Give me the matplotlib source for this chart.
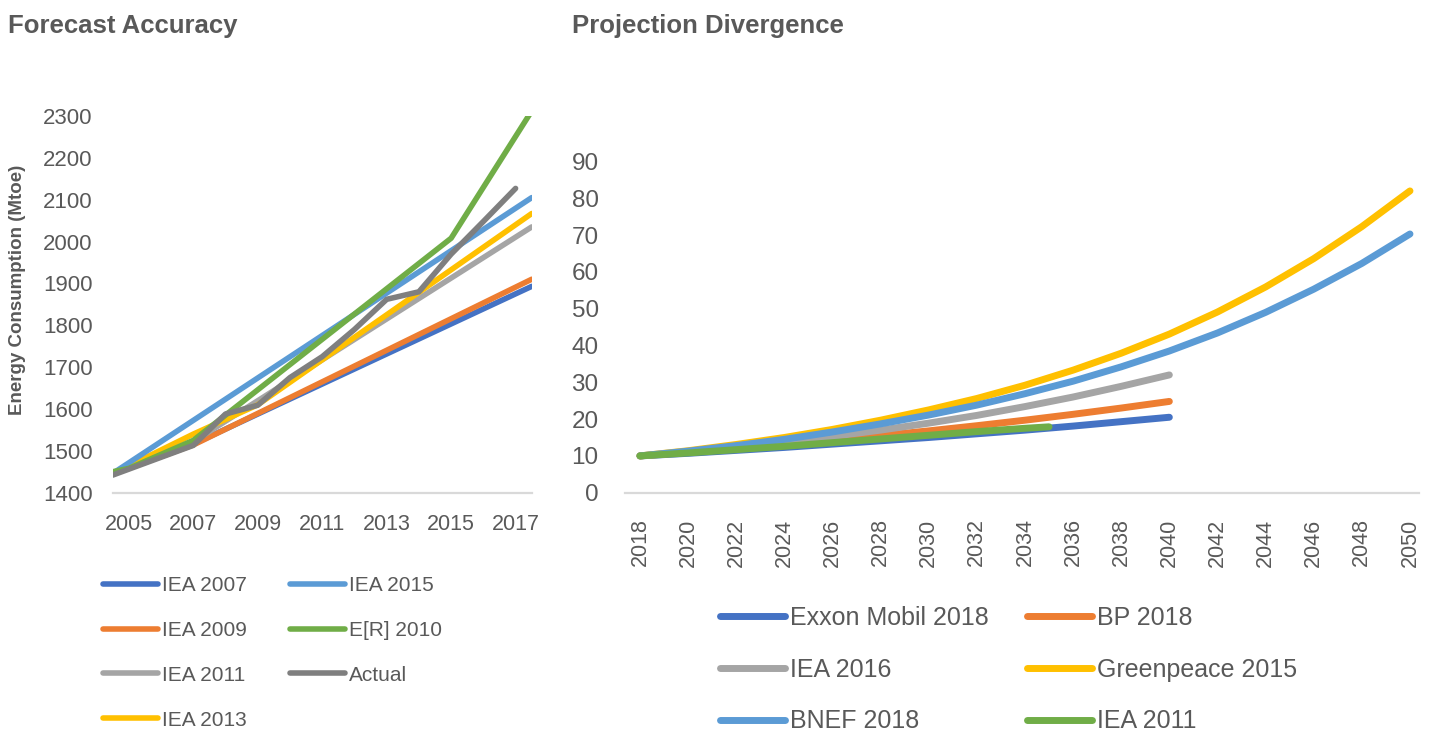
import matplotlib
matplotlib.use('Agg')
import matplotlib.pyplot as plt

plt.rcParams['font.family'] = ['Liberation Sans', 'DejaVu Sans']

TXT = '#595959'

# --- Forecast Accuracy (left) ---
acc_labels = ['IEA 2007', 'IEA 2009', 'IEA 2011', 'IEA 2013', 'IEA 2015', 'E[R] 2010', 'Actual']
acc_colors = ['#4472C4', '#ED7D31', '#A5A5A5', '#FFC000', '#5B9BD5', '#70AD47', '#7F7F7F']
iea2007_x = [2004.5, 2007, 2017.5]
iea2007_y = [1445, 1516, 1893]
iea2009_x = [2004.5, 2007, 2017.5]
iea2009_y = [1445, 1514, 1910]
iea2011_x = [2004.5, 2007, 2017.5]
iea2011_y = [1445, 1522, 2035]
iea2013_x = [2004.5, 2007, 2009, 2017.5]
iea2013_y = [1445, 1540, 1610, 2067]
iea2015_x = [2004.5, 2017.5]
iea2015_y = [1446, 2105]
er2010_x = [2004.5, 2005, 2007, 2015, 2017.5]
er2010_y = [1450, 1458, 1525, 2008, 2312]
actual_x = [2004.5, 2007, 2008, 2009, 2010, 2011, 2012, 2013, 2014, 2015, 2016, 2017]
actual_y = [1442, 1513, 1588, 1609, 1675, 1725, 1790, 1862, 1880, 1970, 2048, 2127]
acc_x_ticks = [2005, 2007, 2009, 2011, 2013, 2015, 2017]
acc_y_ticks = [1400, 1500, 1600, 1700, 1800, 1900, 2000, 2100, 2200, 2300]

# --- Projection Divergence (right) ---
proj_labels = ['Exxon Mobil 2018', 'BP 2018', 'IEA 2016', 'Greenpeace 2015', 'BNEF 2018', 'IEA 2011']
proj_colors = ['#4472C4', '#ED7D31', '#A5A5A5', '#FFC000', '#5B9BD5', '#70AD47']
years_2040 = [2018, 2020, 2022, 2024, 2026, 2028, 2030, 2032, 2034, 2036, 2038, 2040]
years_2050 = years_2040 + [2042, 2044, 2046, 2048, 2050]
years_2035 = [2018, 2020, 2022, 2024, 2026, 2028, 2030, 2032, 2034, 2035]
exxon = [10, 10.7, 11.5, 12.3, 13.2, 14.1, 15.0, 16.0, 17.0, 18.1, 19.3, 20.5]
bp = [10, 11.0, 12.0, 13.1, 14.3, 15.5, 16.8, 18.2, 19.7, 21.3, 23.0, 24.8]
iea2016 = [10, 11.1, 12.3, 13.7, 15.3, 17.0, 18.9, 21.0, 23.4, 26.0, 28.9, 32.0]
greenpeace = [10, 11.4, 13.1, 15.0, 17.2, 19.7, 22.5, 25.6, 29.2, 33.3, 37.9, 43.1,
              49.1, 55.9, 63.6, 72.3, 82.0]
bnef = [10, 11.3, 12.8, 14.5, 16.5, 18.7, 21.1, 23.8, 26.9, 30.3, 34.2, 38.5,
        43.4, 49.0, 55.3, 62.3, 70.3]
iea2011_p = [10, 10.8, 11.7, 12.6, 13.6, 14.6, 15.6, 16.6, 17.5, 17.9]
proj_x_ticks = list(range(2018, 2051, 2))
proj_y_ticks = list(range(0, 91, 10))

fig = plt.figure(figsize=(14.32, 7.31), dpi=100)


def style_axes(ax):
    for s in ['top', 'right', 'left']:
        ax.spines[s].set_visible(False)
    ax.spines['bottom'].set_color('#D9D9D9')
    ax.spines['bottom'].set_linewidth(1.6)


# left chart
ax1 = fig.add_axes([0.0787, 0.326, 0.2926, 0.5153])
series = [(iea2007_x, iea2007_y), (iea2009_x, iea2009_y), (iea2011_x, iea2011_y),
          (iea2013_x, iea2013_y), (iea2015_x, iea2015_y), (er2010_x, er2010_y),
          (actual_x, actual_y)]
lines1 = []
for (xs, ys), lab, col in zip(series, acc_labels, acc_colors):
    ln, = ax1.plot(xs, ys, color=col, lw=4, label=lab, solid_capstyle='round',
                   solid_joinstyle='round')
    lines1.append(ln)
ax1.set_xlim(2004.5, 2017.5)
ax1.set_ylim(1400, 2300)
ax1.set_xticks(acc_x_ticks)
ax1.set_yticks(acc_y_ticks)
ax1.tick_params(axis='y', length=0, pad=14.5, labelsize=16, labelcolor=TXT)
ax1.tick_params(axis='x', length=0, pad=15, labelsize=15.5, labelcolor=TXT)
style_axes(ax1)

# right chart
ax2 = fig.add_axes([0.4365, 0.326, 0.5545, 0.4531])
proj_series = [(years_2040, exxon), (years_2040, bp), (years_2040, iea2016),
               (years_2050, greenpeace), (years_2050, bnef), (years_2035, iea2011_p)]
lines2 = []
for (xs, ys), lab, col in zip(proj_series, proj_labels, proj_colors):
    ln, = ax2.plot(xs, ys, color=col, lw=5, label=lab, solid_capstyle='round',
                   solid_joinstyle='round')
    lines2.append(ln)
ax2.set_xlim(2017.38, 2050.38)
ax2.set_ylim(0, 90)
ax2.set_xticks(proj_x_ticks)
ax2.set_xticklabels([str(y) for y in proj_x_ticks], rotation=90)
ax2.set_yticks(proj_y_ticks)
ax2.tick_params(axis='y', length=0, pad=19, labelsize=17.5, labelcolor=TXT)
ax2.tick_params(axis='x', length=0, pad=18.5, labelsize=15.5, labelcolor=TXT)
style_axes(ax2)

# titles and axis label
fig.text(8 / 1432, 1 - 33 / 731, 'Forecast Accuracy', fontsize=18.5, fontweight='bold',
         color=TXT, va='baseline', ha='left')
fig.text(572 / 1432, 1 - 33 / 731, 'Projection Divergence', fontsize=18.5, fontweight='bold',
         color=TXT, va='baseline', ha='left')
fig.text(18 / 1432, 1 - 290 / 731, 'Energy Consumption (Mtoe)', fontsize=13.5,
         fontweight='bold', color=TXT, rotation=90, va='center', ha='center')

# legends
fig.legend(handles=lines1, loc='upper left', bbox_to_anchor=(103 / 1432, 1 - 576 / 731),
           ncol=2, frameon=False, fontsize=15, borderpad=0, borderaxespad=0,
           handlelength=2.64, handletextpad=0.2, labelspacing=1.24, columnspacing=2.07,
           labelcolor=TXT)
order = [0, 2, 4, 1, 3, 5]
fig.legend(handles=[lines2[i] for i in order], loc='upper left',
           bbox_to_anchor=(720 / 1432, 1 - 606 / 731), ncol=2, frameon=False, fontsize=18,
           borderpad=0, borderaxespad=0, handlelength=2.6, handletextpad=0.2,
           labelspacing=1.11, columnspacing=1.52, labelcolor=TXT)

fig.savefig('out.png', dpi=100)
